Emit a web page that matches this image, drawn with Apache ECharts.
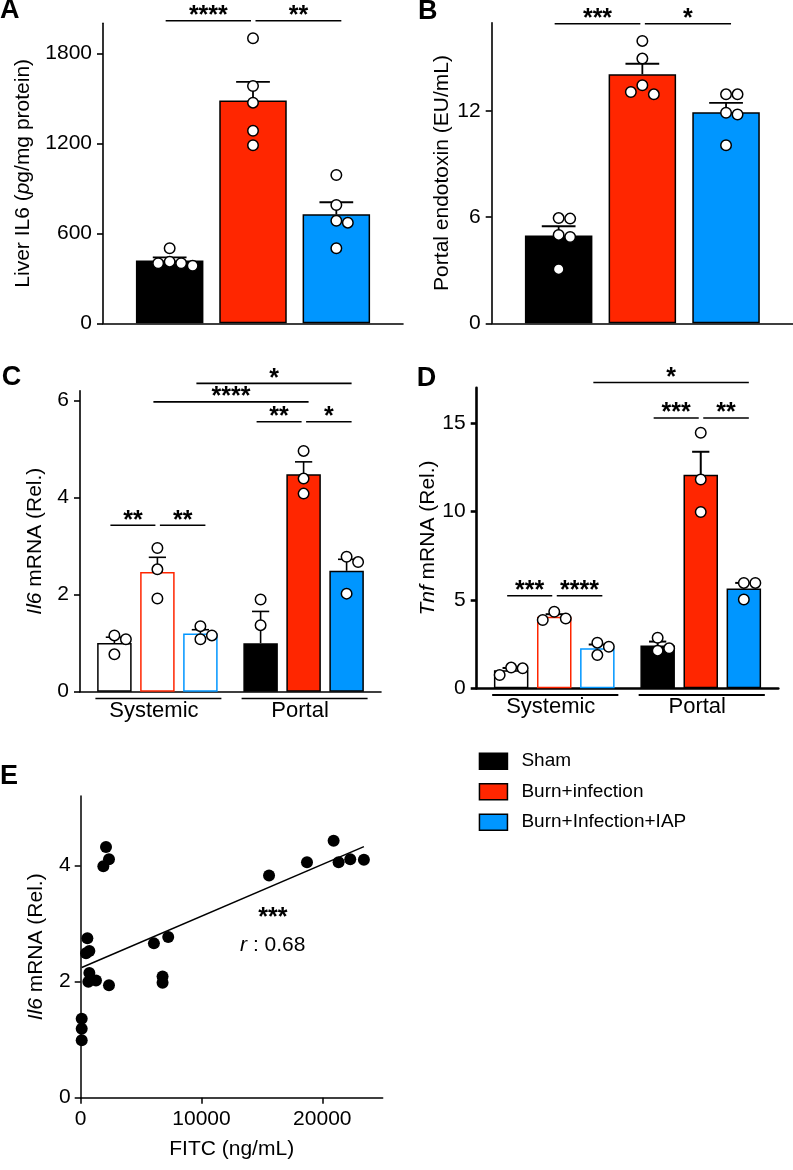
<!DOCTYPE html>
<html><head><meta charset="utf-8">
<script src="https://cdn.jsdelivr.net/npm/echarts@6/dist/echarts.min.js"></script>
<style>html,body{margin:0;padding:0;background:#fff}#c{width:793px;height:1170px}</style>
</head><body><div id="c"></div>
<script>
// ---------- data ----------
const groups = ['Sham', 'Burn+infection', 'Burn+Infection+IAP'];
const colors = ['#000000', '#ff2600', '#0096ff'];

// Panel A: Liver IL6 (pg/mg protein), individual animals
const aSham = [411, 400, 400, 384, 500];
const aBurn = [1900, 1582, 1471, 1284, 1187];
const aIAP = [989, 789, 684, 671, 500];
const aTicks = [0, 600, 1200, 1800];
const aSig = [[0, 1, '****', 2017], [1, 2, '**', 2017]];

// Panel B: Portal endotoxin (EU/mL)
const bSham = [5.95, 5.92, 5.0, 4.88, 3.06];
const bBurn = [15.97, 14.97, 13.46, 12.95, 13.08];
const bIAP = [12.95, 12.95, 11.91, 11.81, 10.07];
const bTicks = [0, 6, 12];
const bSig = [[0, 1, '***', 16.94], [1, 2, '*', 16.94]];

// Panel C: Il6 mRNA (Rel.) [Systemic, Portal]
const sites = ['Systemic', 'Portal'];
const cSham = [[1.16, 1.08, 0.77], [1.90, 1.37, -0.27]];
const cBurn = [[2.96, 2.52, 1.92], [4.96, 4.39, 4.08]];
const cIAP = [[1.35, 1.16, 1.08], [2.78, 2.67, 2.02]];
const cTicks = [0, 2, 4, 6];
const cSig = [[0, 1, '**', 3.43], [1, 2, '**', 3.43], [3, 4, '**', 5.56], [4, 5, '*', 5.56], [1, 4, '****', 5.97], [2, 5, '*', 6.35]];

// Panel D: Tnf mRNA (Rel.) [Systemic, Portal]
const dSham = [[1.17, 1.13, 0.75], [2.86, 2.26, 2.13]];
const dBurn = [[4.33, 3.95, 3.86], [14.45, 11.81, 9.97]];
const dIAP = [[2.58, 2.35, 1.88], [5.96, 5.96, 5.02]];
const dTicks = [0, 5, 10, 15];
const dSig = [[0, 1, '***', 5.23], [1, 2, '****', 5.23], [3, 4, '***', 15.29], [4, 5, '**', 15.29], [2, 5, '*', 17.29]];

// Panel E: FITC (ng/mL) vs Il6 mRNA
const eFitc = [2094, 1873, 2342, 551, 441, 716, 716, 634, 1267, 2342, 83, 83, 83, 6061, 7245, 6777, 6777, 15592, 18733, 20937, 21350, 22314, 23444];
const eIl6 = [4.32, 3.99, 4.11, 2.75, 2.49, 2.53, 2.15, 2.00, 2.02, 1.94, 1.36, 1.19, 0.99, 2.66, 2.77, 2.09, 1.98, 3.83, 4.06, 4.43, 4.06, 4.11, 4.10];
const eXTicks = [0, 10000, 20000];
const eYTicks = [0, 2, 4];
const eStat = '***';
const eR = '0.68';

// ---------- helpers ----------
const FONT = "'Liberation Sans', Arial, Helvetica, sans-serif";
const mean = a => a.reduce((s, v) => s + v, 0) / a.length;
const sem = a => { const m = mean(a); const v = a.reduce((s, x) => s + (x - m) * (x - m), 0) / (a.length - 1); return Math.sqrt(v / a.length); };
const plain = v => String(v);

function swarm(vals, pxY, diam, slot) {
  const placed = [];
  return vals.map(v => {
    const y = v * pxY;
    for (let k = 0; k < 20; k++) {
      const s = k === 0 ? 0 : (k % 2 ? Math.ceil(k / 2) : -k / 2);
      const dx = s * slot;
      if (!placed.some(p => Math.abs(p.y - y) < diam && Math.abs(p.dx - dx) < slot * 0.9)) {
        placed.push({ y, dx }); return dx;
      }
    }
    return 0;
  });
}

const panels = [
  { label: 'A', grid: { left: 103, top: 23.3, width: 300, height: 300 }, xr: [-0.8, 2.8], yr: [0, 2000],
    ticks: aTicks, data: [[aSham], [aBurn], [aIAP]], sig: aSig, name: 'Liver IL6 ({i|p}g/mg protein)', nameGap: 69,
    barW: 67.5, axisW: 1.6, lw: 1.8, open: -1 },
  { label: 'B', grid: { left: 491.7, top: 22.7, width: 301.3, height: 300.6 }, xr: [-0.8, 2.8], yr: [0, 17],
    ticks: bTicks, data: [[bSham], [bBurn], [bIAP]], sig: bSig, name: 'Portal endotoxin (EU/mL)', nameGap: 39,
    barW: 67.5, axisW: 1.6, lw: 1.8, open: -1 },
  { label: 'C', grid: { left: 80, top: 390.7, width: 301, height: 301 }, xr: [-0.8, 6.2], yr: [0, 6.2],
    ticks: cTicks, data: [cSham, cBurn, cIAP], sig: cSig, name: '{i|Il6} mRNA (Rel.)', nameGap: 34,
    barW: 34.5, axisW: 1.6, lw: 1.6, open: 0, sites: sites },
  { label: 'D', grid: { left: 476.7, top: 387.7, width: 301.6, height: 300.6 }, xr: [-0.8, 6.2], yr: [0, 17],
    ticks: dTicks, data: [dSham, dBurn, dIAP], sig: dSig, name: '{i|Tnf} mRNA (Rel.)', nameGap: 38,
    barW: 34.5, axisW: 2.6, lw: 2, open: 0, sites: sites }
];
const SITE_GAP = 0.4;
const pos = (s, g) => s * (3 + SITE_GAP) + g;
const barX = idx => pos(Math.floor(idx / 3), idx % 3);

const grids = [], xAxes = [], yAxes = [], series = [];
const axisTxt = { fontSize: 21, color: '#000', fontFamily: FONT };

panels.forEach((p, pi) => {
  grids.push(p.grid);
  xAxes.push({ type: 'value', gridIndex: pi, min: p.xr[0], max: p.xr[1],
    axisLine: { onZero: false, lineStyle: { color: '#000', width: p.axisW } },
    axisTick: { show: false }, axisLabel: { show: false }, splitLine: { show: false } });
  yAxes.push({ type: 'value', gridIndex: pi, min: p.yr[0], max: p.yr[1],
    axisLine: { show: true, onZero: false, lineStyle: { color: '#000', width: p.axisW } },
    axisTick: { show: true, length: 6, customValues: p.ticks, lineStyle: { color: '#000', width: p.axisW } },
    axisLabel: { customValues: p.ticks, margin: 11, formatter: plain, ...axisTxt },
    splitLine: { show: false },
    name: p.name, nameLocation: 'middle', nameRotate: 90, nameGap: p.nameGap,
    nameTextStyle: { ...axisTxt, rich: { i: { ...axisTxt, fontStyle: 'italic' } } } });

  const pxY = p.grid.height / (p.yr[1] - p.yr[0]);
  const pxX = p.grid.width / (p.xr[1] - p.xr[0]);
  const errData = [], pts = [];
  p.data.forEach((sitesVals, g) => {
    const barData = sitesVals.map((vals, s) => {
      const item = { value: [pos(s, g), mean(vals)] };
      if (s === p.open) item.itemStyle = { color: '#ffffff', borderColor: colors[g] };
      errData.push([pos(s, g), mean(vals), mean(vals) + sem(vals)]);
      const offs = swarm(vals, pxY, 11.5, 11.5);
      vals.forEach((v, k) => pts.push([pos(s, g) + offs[k] / pxX, v]));
      return item;
    });
    series.push({ type: 'bar', name: groups[g], xAxisIndex: pi, yAxisIndex: pi, data: barData,
      barWidth: p.barW, barGap: '-100%', z: 2, silent: true,
      itemStyle: { color: colors[g], borderColor: '#000', borderWidth: 1.5 } });
  });
  const cap = p.barW / 2;
  series.push({ type: 'custom', name: 'err', xAxisIndex: pi, yAxisIndex: pi, z: 3, silent: true, data: errData,
    renderItem: (params, api) => {
      const p0 = api.coord([api.value(0), api.value(1)]);
      const p1 = api.coord([api.value(0), api.value(2)]);
      const st = { stroke: '#000', lineWidth: p.lw };
      return { type: 'group', children: [
        { type: 'line', shape: { x1: p0[0], y1: p0[1], x2: p1[0], y2: p1[1] }, style: st },
        { type: 'line', shape: { x1: p1[0] - cap / 2, y1: p1[1], x2: p1[0] + cap / 2, y2: p1[1] }, style: st }
      ] };
    } });
  series.push({ type: 'scatter', name: 'pts', xAxisIndex: pi, yAxisIndex: pi, z: 4, silent: true, data: pts,
    symbol: 'circle', symbolSize: 10.5,
    itemStyle: { color: '#ffffff', borderColor: '#000', borderWidth: 1.5, opacity: 1 } });

  // significance brackets
  const sig = p.sig;
  series.push({ type: 'custom', name: 'sig', xAxisIndex: pi, yAxisIndex: pi, z: 5, silent: true, clip: false,
    data: sig.map(s => [barX(s[0]), barX(s[1]), s[3]]),
    encode: { x: [0, 1], y: 2 },
    renderItem: (params, api) => {
      const s = sig[params.dataIndex];
      const sharedStart = sig.some(o => o !== s && o[3] === s[3] && o[1] === s[0]);
      const sharedEnd = sig.some(o => o !== s && o[3] === s[3] && o[0] === s[1]);
      const a = api.coord([api.value(0), api.value(2)]);
      const b = api.coord([api.value(1), api.value(2)]);
      const x1 = a[0] + (sharedStart ? 2.5 : -4);
      const x2 = b[0] + (sharedEnd ? -2 : 5);
      return { type: 'group', children: [
        { type: 'line', shape: { x1: x1, y1: a[1], x2: x2, y2: a[1] }, style: { stroke: '#000', lineWidth: 1.6 } },
        { type: 'text', style: { text: s[2], x: (x1 + x2) / 2, y: a[1] - 4.5, align: 'center', verticalAlign: 'middle',
          fontSize: 25, fontWeight: 'bold', fontFamily: FONT, fill: '#000' } }
      ] };
    } });

  // site group labels
  if (p.sites) {
    series.push({ type: 'custom', name: 'sites', xAxisIndex: pi, yAxisIndex: pi, z: 5, silent: true, clip: false,
      data: p.sites.map((n, s) => [pos(s, 0), pos(s, 2), 0]),
      encode: { x: [0, 1], y: 2 },
      renderItem: (params, api) => {
        const a = api.coord([api.value(0), 0]);
        const b = api.coord([api.value(1), 0]);
        return { type: 'group', children: [
          { type: 'line', shape: { x1: a[0] - 19, y1: a[1] + 6.7, x2: b[0] + 21, y2: a[1] + 6.7 },
            style: { stroke: '#000', lineWidth: p.axisW > 2 ? 2 : 1.5 } },
          { type: 'text', style: { text: p.sites[params.dataIndex], x: (a[0] + b[0]) / 2 - 3.5, y: a[1] + 19,
            align: 'center', verticalAlign: 'middle', fontSize: 22, fontFamily: FONT, fill: '#000' } }
        ] };
      } });
  }
});

// ---------- panel E ----------
const ei = panels.length;
grids.push({ left: 80.7, top: 796, width: 302, height: 301.7 });
xAxes.push({ type: 'value', gridIndex: ei, min: 0, max: 25000,
  axisLine: { onZero: false, lineStyle: { color: '#000', width: 1.5 } },
  axisTick: { show: true, length: 6, customValues: eXTicks, lineStyle: { color: '#000', width: 1.5 } },
  axisLabel: { customValues: eXTicks, margin: 11, formatter: plain, ...axisTxt }, splitLine: { show: false },
  name: 'FITC (ng/mL)', nameLocation: 'middle', nameGap: 41, nameTextStyle: { ...axisTxt } });
yAxes.push({ type: 'value', gridIndex: ei, min: 0, max: 5.2,
  axisLine: { show: true, onZero: false, lineStyle: { color: '#000', width: 1.5 } },
  axisTick: { show: true, length: 6, customValues: eYTicks, lineStyle: { color: '#000', width: 1.5 } },
  axisLabel: { customValues: eYTicks, margin: 10, formatter: plain, ...axisTxt }, splitLine: { show: false },
  name: '{i|Il6} mRNA (Rel.)', nameLocation: 'middle', nameRotate: 90, nameGap: 34,
  nameTextStyle: { ...axisTxt, rich: { i: { ...axisTxt, fontStyle: 'italic' } } } });

// least-squares regression from the points
const mx = mean(eFitc), my = mean(eIl6);
let sxy = 0, sxx = 0;
eFitc.forEach((x, k) => { sxy += (x - mx) * (eIl6[k] - my); sxx += (x - mx) * (x - mx); });
const slope = sxy / sxx, icpt = my - slope * mx;
const x0 = Math.min(...eFitc), x1 = Math.max(...eFitc);
series.push({ type: 'line', name: 'fit', xAxisIndex: ei, yAxisIndex: ei, z: 3, silent: true, symbol: 'none',
  data: [[x0, icpt + slope * x0], [x1, icpt + slope * x1]], lineStyle: { color: '#000', width: 1.5 } });
series.push({ type: 'scatter', name: 'corr', xAxisIndex: ei, yAxisIndex: ei, z: 4, silent: true,
  data: eFitc.map((x, k) => [x, eIl6[k]]), symbol: 'circle', symbolSize: 12, itemStyle: { color: '#000', opacity: 1 } });
series.push({ type: 'custom', name: 'stat', xAxisIndex: ei, yAxisIndex: ei, z: 5, silent: true, clip: false,
  data: [[15900, 2.9]],
  renderItem: (params, api) => {
    const c = api.coord([api.value(0), api.value(1)]);
    return { type: 'group', children: [
      { type: 'text', style: { text: eStat, x: c[0], y: c[1] - 11, align: 'center', verticalAlign: 'middle',
        fontSize: 25, fontWeight: 'bold', fontFamily: FONT, fill: '#000' } },
      { type: 'text', style: { text: '{i|r} : ' + eR, x: c[0], y: c[1] + 16, align: 'center', verticalAlign: 'middle',
        fontSize: 21, fontFamily: FONT, fill: '#000',
        rich: { i: { fontStyle: 'italic', fontSize: 21, fontFamily: FONT, fill: '#000' } } } }
    ] };
  } });

const chart = echarts.init(document.getElementById('c'), null, { renderer: 'canvas' });
chart.setOption({
  animation: false,
  backgroundColor: '#ffffff',
  grid: grids, xAxis: xAxes, yAxis: yAxes, series: series,
  legend: {
    orient: 'vertical', left: 478.7, top: 751.7, padding: 0, itemWidth: 28, itemHeight: 16, itemGap: 11.5,
    selectedMode: false, icon: 'rect',
    textStyle: { fontSize: 19, lineHeight: 16, color: '#000', fontFamily: FONT, padding: [0, 0, 0, 9] },
    data: groups.map((n, g) => ({ name: n, icon: 'rect', itemStyle: { color: colors[g], borderColor: '#000', borderWidth: 1.5 } }))
  },
  graphic: ['A', 'B', 'C', 'D', 'E'].map((t, k) => ({
    type: 'text', left: [0, 418, 1.7, 416.7, 0][k], top: [-3, -2, 364, 365, 763][k],
    style: { text: t, fontSize: 27, fontWeight: 'bold', fontFamily: FONT, fill: '#000' }
  }))
});
</script></body></html>
